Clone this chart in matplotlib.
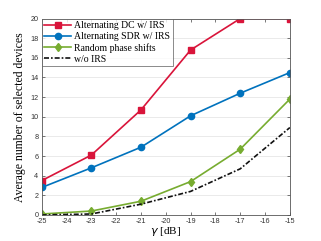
import matplotlib
matplotlib.use("Agg")
import matplotlib.pyplot as plt

plt.rcParams["axes.unicode_minus"] = False

gamma = [-25, -23, -21, -19, -17, -15]
dc_irs = [3.5, 6.1, 10.7, 16.8, 20.0, 20.0]
sdr_irs = [2.8, 4.8, 6.9, 10.1, 12.4, 14.5]
random_phase = [0.1, 0.4, 1.4, 3.4, 6.7, 11.8]
wo_irs = [0.0, 0.1, 1.1, 2.4, 4.7, 8.9]
labels = ["Alternating DC w/ IRS", "Alternating SDR w/ IRS", "Random phase shifts", "w/o IRS"]

fig = plt.figure(figsize=(3.21, 2.41), dpi=100)
ax = fig.add_axes([0.13, 0.108, 0.773, 0.815])
ax.plot(gamma, dc_irs, color="#D9143A", marker="s", ms=3.8, lw=1.2, label=labels[0])
ax.plot(gamma, sdr_irs, color="#0072BD", marker="o", ms=4.5, lw=1.2, label=labels[1])
ax.plot(gamma, random_phase, color="#77AC30", marker="d", ms=4.5, lw=1.2, label=labels[2])
ax.plot(gamma, wo_irs, color="#111111", ls=(0, (3, 1.2, 1, 1.2)), lw=1.2, label=labels[3])

ax.set_xlim(-25, -15)
ax.set_ylim(0, 20)
ax.set_xticks(range(-25, -14))
ax.set_yticks(range(0, 21, 2))
ax.yaxis.grid(True, color="#e6e6e6", lw=0.6)
ax.set_axisbelow(True)
ax.tick_params(labelsize=5.2, direction="in", length=2, width=0.5, top=True, right=True, colors="#444444", pad=2.5)
for lab in ax.get_xticklabels() + ax.get_yticklabels():
    lab.set_family("Liberation Sans")
    lab.set_color("#333333")
for s in ax.spines.values():
    s.set_linewidth(0.6)
    s.set_color("#555555")
ax.set_xlabel(r"$\gamma$ [dB]", family="Liberation Serif", fontsize=8, labelpad=0)
ax.set_ylabel("Average number of selected devices", family="Liberation Serif", fontsize=8.5, labelpad=3)
leg = ax.legend(loc="upper left", prop={"family": "Liberation Serif", "size": 7},
                frameon=True, fancybox=False, edgecolor="#555555", borderpad=0.25,
                handlelength=2.8, handletextpad=0.3, labelspacing=0.2, borderaxespad=0)
leg.get_frame().set_linewidth(0.6)
fig.savefig("out.png", dpi=100)
